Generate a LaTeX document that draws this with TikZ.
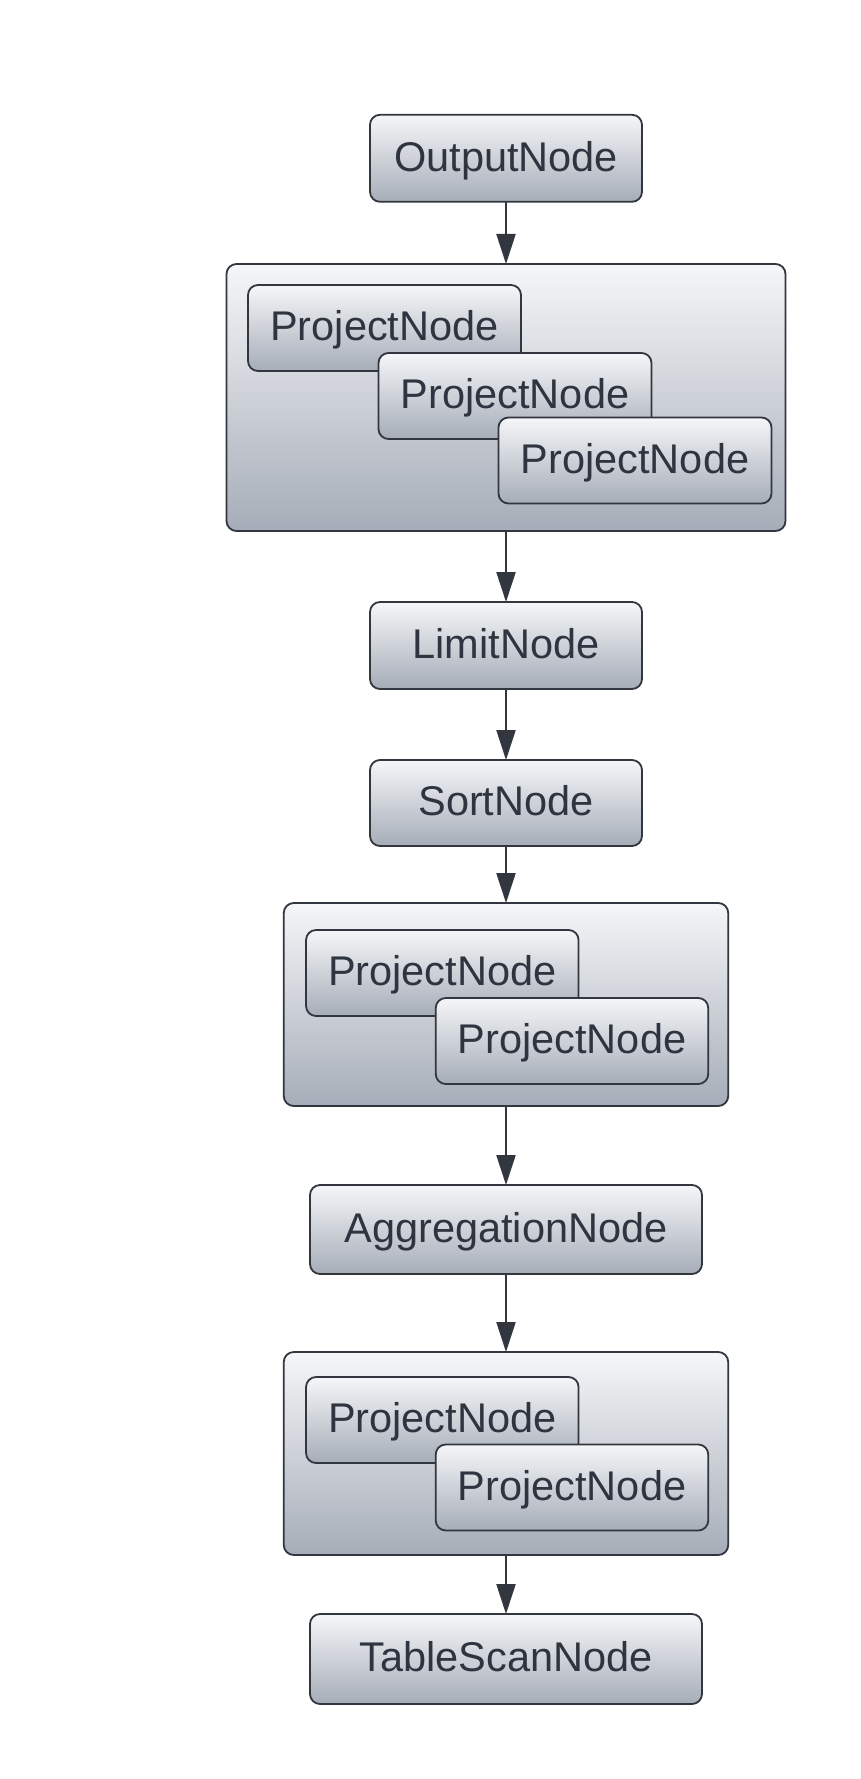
\documentclass[tikz,border=0pt]{standalone}
\usepackage{fontspec}
\setmainfont{Liberation Sans}
\usetikzlibrary{arrows.meta}
\definecolor{edge}{HTML}{31363F}
\definecolor{txt}{HTML}{2F3540}
\definecolor{topc}{HTML}{F5F6F8}
\definecolor{botc}{HTML}{A6ADB8}
\tikzset{
  opbox/.style={draw=edge, line width=1.8pt, rounded corners=10pt,
    top color=topc, bottom color=botc, text=txt,
    font=\fontsize{41.5}{48}\selectfont, inner sep=0pt, outer sep=0pt,
    text height=25.7pt, text depth=0pt},
  grpbox/.style={draw=edge, line width=1.8pt, rounded corners=10pt,
    top color=topc, bottom color=botc, inner sep=0pt, outer sep=0pt},
  flow/.style={draw=edge, line width=2.2pt, -{Triangle[length=30pt,width=19pt]}, shorten >=0pt}
}
\begin{document}
\begin{tikzpicture}[x=1pt,y=-1pt]
\fill[white] (0,0) rectangle (861,1779);
\useasboundingbox (0,0) rectangle (861,1779);

\node[opbox, minimum width=272pt, minimum height=87pt] (out) at (506,158.3) {OutputNode};

\node[grpbox, minimum width=559pt, minimum height=267pt] (g1) at (506,397.5) {};
\node[opbox, minimum width=273pt, minimum height=86pt] (p1) at (384.5,328) {ProjectNode};
\node[opbox, minimum width=273pt, minimum height=86pt] (p2) at (515,396) {ProjectNode};
\node[opbox, minimum width=273pt, minimum height=86pt] (p3) at (635,460.5) {ProjectNode};

\node[opbox, minimum width=272pt, minimum height=87pt] (lim) at (506,645.5) {LimitNode};
\node[opbox, minimum width=272pt, minimum height=86pt] (sort) at (506,803) {SortNode};

\node[grpbox, minimum width=444.5pt, minimum height=203pt] (g2) at (506,1004.5) {};
\node[opbox, minimum width=272.5pt, minimum height=86pt] (pa) at (442.3,973) {ProjectNode};
\node[opbox, minimum width=272.5pt, minimum height=86pt] (pb) at (572,1041) {ProjectNode};

\node[opbox, minimum width=392pt, minimum height=89pt] (agg) at (506,1229.5) {AggregationNode};

\node[grpbox, minimum width=444.5pt, minimum height=203pt] (g3) at (506,1453.5) {};
\node[opbox, minimum width=272.5pt, minimum height=86pt] (pc) at (442.3,1420) {ProjectNode};
\node[opbox, minimum width=272.5pt, minimum height=86pt] (pd) at (572,1487.5) {ProjectNode};

\node[opbox, minimum width=392pt, minimum height=90pt] (scan) at (506,1659) {TableScanNode};

\draw[flow] (out.south) -- (g1.north);
\draw[flow] (g1.south) -- (lim.north);
\draw[flow] (lim.south) -- (sort.north);
\draw[flow] (sort.south) -- (g2.north);
\draw[flow] (g2.south) -- (agg.north);
\draw[flow] (agg.south) -- (g3.north);
\draw[flow] (g3.south) -- (scan.north);
\end{tikzpicture}
\end{document}
